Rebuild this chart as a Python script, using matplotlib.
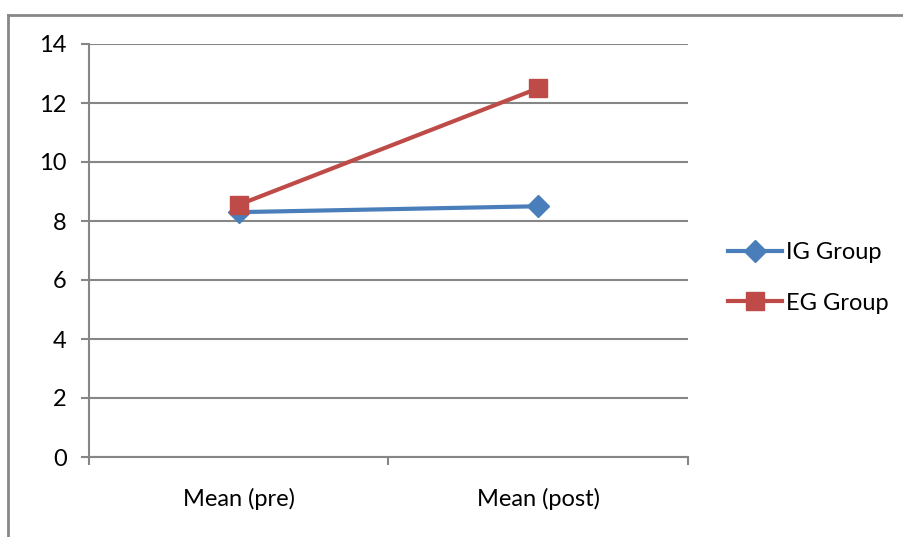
import matplotlib.pyplot as plt
import matplotlib.lines as mlines

categories = ["Mean (pre)", "Mean (post)"]
ig_values = [8.3, 8.5]
eg_values = [8.55, 12.5]
y_ticks = [0, 2, 4, 6, 8, 10, 12, 14]

plt.rcParams["font.family"] = ["Lato", "DejaVu Sans"]

fig = plt.figure(figsize=(9.04, 5.37), dpi=100)
ax = fig.add_axes([89 / 904, 1 - 457 / 537, (688 - 89) / 904, (457 - 44) / 537])

x = [i + 0.5 for i in range(len(categories))]
ax.plot(x, ig_values, color="#4A7EBB", lw=3, marker="D", ms=11, label="IG Group", zorder=3)
ax.plot(x, eg_values, color="#BE4B48", lw=3, marker="s", ms=13, label="EG Group", zorder=4)

ax.set_xlim(0, len(categories))
ax.set_ylim(0, 14)
ax.set_yticks(y_ticks)
ax.set_xticks(range(len(categories) + 1))
ax.set_xticklabels([])
ax.set_xticks(x, minor=True)
ax.set_xticklabels(categories, minor=True)
ax.tick_params(axis="x", which="minor", length=0, pad=22, labelsize=17)
ax.tick_params(axis="x", which="major", length=6, color="#868686", width=1.5)
ax.tick_params(axis="y", length=6, color="#868686", width=1.5, labelsize=17, pad=10)
ax.grid(axis="y", color="#868686", lw=1.5)
ax.set_axisbelow(True)
for side in ["top", "right"]:
    ax.spines[side].set_visible(False)
for side in ["left", "bottom"]:
    ax.spines[side].set_color("#868686")
    ax.spines[side].set_linewidth(1.5)

fig.legend(loc="center left", bbox_to_anchor=(728 / 904, 1 - 278 / 537), frameon=False,
           fontsize=17, handlelength=2.3, handletextpad=0.15, labelspacing=1.25,
           borderpad=0, borderaxespad=0)

# outer chart border (partially visible)
fig.add_artist(mlines.Line2D([8 / 904, 8 / 904], [0, 1 - 15 / 537], color="#888888", lw=2))
fig.add_artist(mlines.Line2D([8 / 904, 1], [1 - 15 / 537, 1 - 15 / 537], color="#888888", lw=2))

fig.savefig("out.png", dpi=100)
